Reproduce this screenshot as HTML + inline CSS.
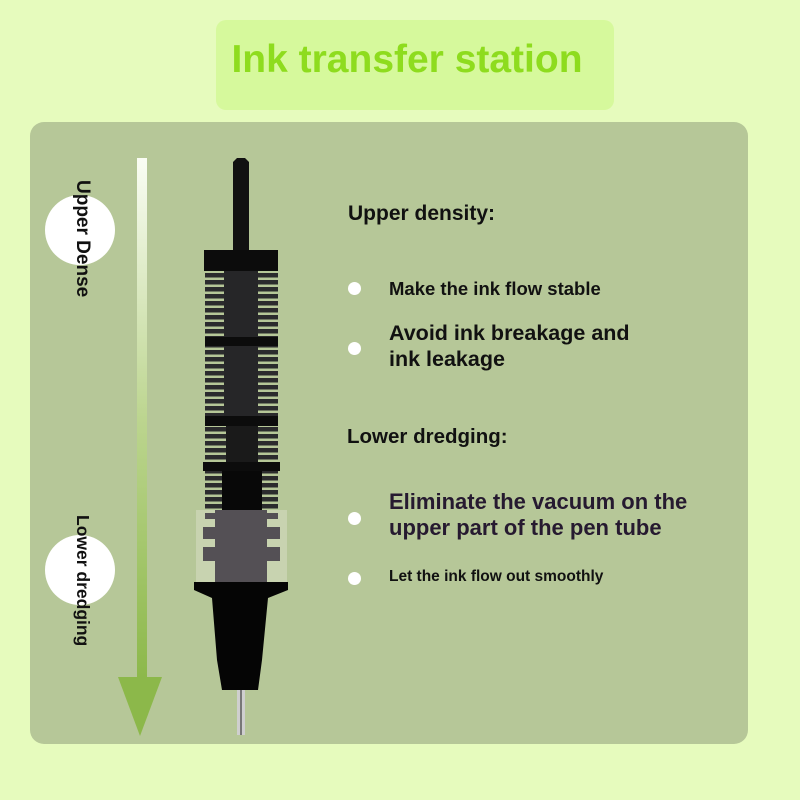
<!DOCTYPE html>
<html><head><meta charset="utf-8"><style>
body{margin:0;width:800px;height:800px;background:#e6fbbd;overflow:hidden;font-family:"Liberation Sans",sans-serif;position:relative}
.title{position:absolute;left:216px;top:20px;width:382px;padding-right:16px;height:90px;background:#d6f99c;border-radius:10px;color:#8edc1e;font-weight:bold;font-size:39px;line-height:80px;text-align:center}
.panel{position:absolute;left:30px;top:122px;width:718px;height:622px;background:#b6c798;border-radius:14px}
.t{position:absolute;font-weight:bold;color:#111;white-space:nowrap}
.dot{position:absolute;width:13px;height:13px;border-radius:50%;background:#fff}
.v{position:absolute;transform:rotate(90deg);transform-origin:0 0;font-weight:bold;font-size:18px;color:#111;white-space:nowrap}
</style></head><body>
<div class="title">Ink transfer station</div>
<div class="panel"></div>
<svg width="800" height="800" style="position:absolute;left:0;top:0">
<defs>
<linearGradient id="ar" x1="0" y1="0" x2="0" y2="1"><stop offset="0" stop-color="#fafdf4"/><stop offset="0.5" stop-color="#bcd58f"/><stop offset="1" stop-color="#8cb84a"/></linearGradient>
<pattern id="rib" width="10" height="7" patternUnits="userSpaceOnUse"><rect width="10" height="4.5" fill="#2b2b2d"/></pattern>
</defs>
<circle cx="80" cy="230" r="35" fill="#fff"/>
<circle cx="80" cy="570" r="35" fill="#fff"/>
<rect x="137" y="158" width="10" height="522" fill="url(#ar)"/>
<polygon points="118,677 162,677 140,736" fill="#8cb84a"/>
<path d="M233,250 L233,162 L237,158 L245,158 L249,162 L249,250 Z" fill="#111"/>
<rect x="204" y="250" width="74" height="21" fill="#0c0c0c"/>
<rect x="205" y="271" width="73" height="66" fill="url(#rib)"/>
<rect x="224" y="271" width="34" height="66" fill="#262628"/>
<rect x="205" y="337" width="73" height="9" fill="#0c0c0c"/>
<rect x="205" y="346" width="73" height="70" fill="url(#rib)"/>
<rect x="224" y="346" width="34" height="70" fill="#262628"/>
<rect x="205" y="416" width="73" height="10" fill="#0c0c0c"/>
<rect x="205" y="426" width="73" height="36" fill="url(#rib)"/>
<rect x="226" y="426" width="32" height="36" fill="#1a1a1a"/>
<rect x="203" y="462" width="77" height="9" fill="#0c0c0c"/>
<rect x="205" y="471" width="73" height="39" fill="url(#rib)"/>
<rect x="222" y="471" width="40" height="39" fill="#080808"/>
<rect x="196" y="510" width="91" height="72" fill="#c8d3b0"/>
<rect x="215" y="510" width="52" height="72" fill="#545055"/>
<rect x="205" y="513" width="73" height="6" fill="#545055"/>
<rect x="203" y="527" width="77" height="12" fill="#545055"/>
<rect x="203" y="547" width="77" height="14" fill="#545055"/>
<path d="M194,582 L288,582 L288,590 L268,598 L262,660 L258,690 L222,690 L217,660 L212,598 L194,590 Z" fill="#050505"/>
<rect x="237" y="690" width="8" height="45" fill="#cfcfcf"/>
<rect x="240" y="690" width="2" height="45" fill="#777"/>
</svg>
<div class="v" style="left:93px;top:180px;font-size:19px">Upper Dense</div>
<div class="v" style="left:93px;top:515px;font-size:17.5px">Lower dredging</div>
<div class="t" style="left:348px;top:202px;font-size:21px">Upper density:</div>
<div class="dot" style="left:348px;top:282px"></div>
<div class="t" style="left:389px;top:278px;font-size:18.5px">Make the ink flow stable</div>
<div class="dot" style="left:348px;top:342px"></div>
<div class="t" style="left:389px;top:320px;font-size:21.5px;line-height:26px">Avoid ink breakage and<br>ink leakage</div>
<div class="t" style="left:347px;top:425px;font-size:20.5px">Lower dredging:</div>
<div class="dot" style="left:348px;top:512px"></div>
<div class="t" style="left:389px;top:489px;font-size:22px;line-height:26px;color:#261a30">Eliminate the vacuum on the<br>upper part of the pen tube</div>
<div class="dot" style="left:348px;top:572px"></div>
<div class="t" style="left:389px;top:568px;font-size:15.5px">Let the ink flow out smoothly</div>
</body></html>
